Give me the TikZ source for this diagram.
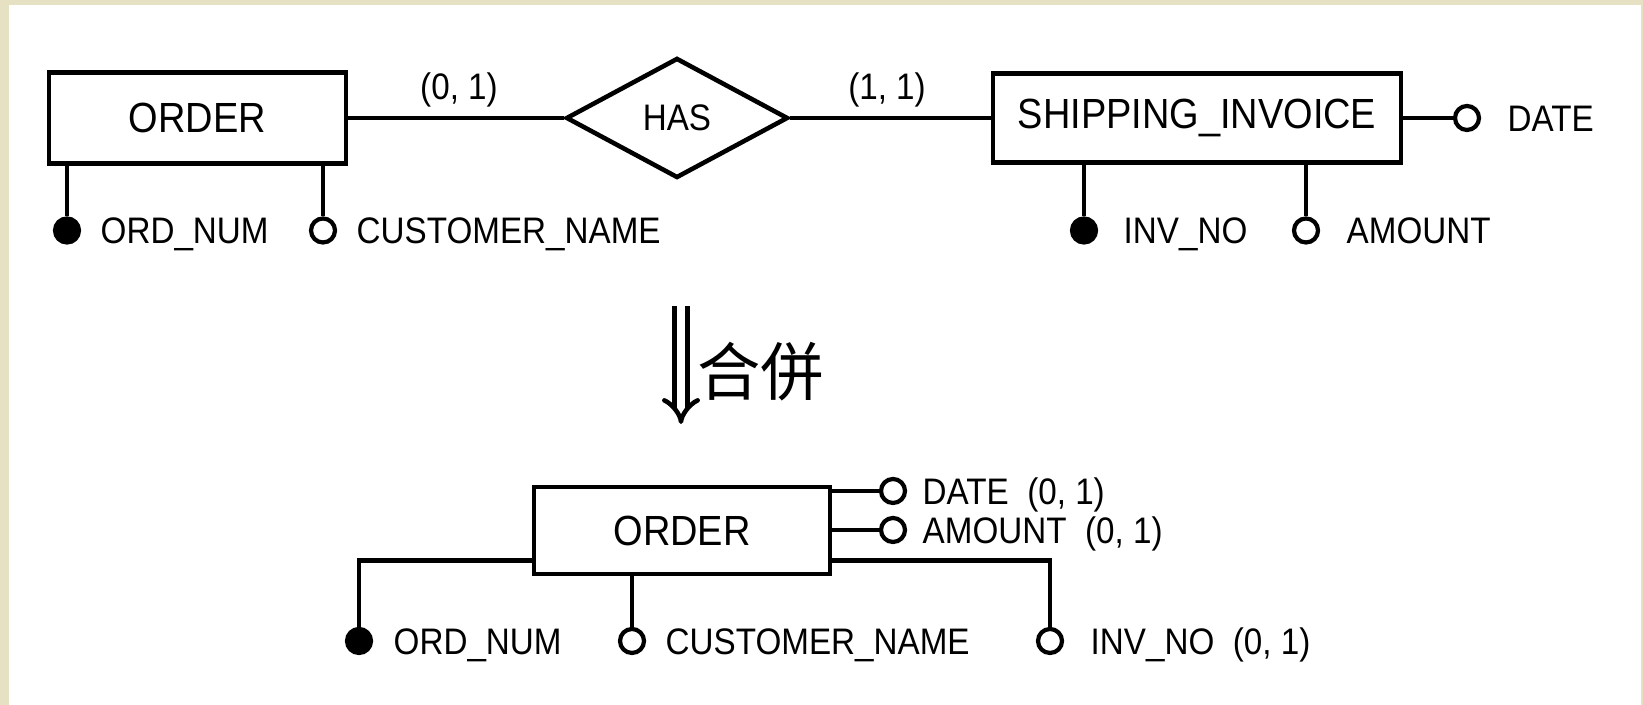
\documentclass[tikz,border=0pt]{standalone}
\usepackage{fontspec}
\setmainfont{Liberation Sans}[FakeStretch=0.9]
\newfontfamily\cjk{Noto Sans CJK TC}
\usetikzlibrary{shapes.geometric,arrows.meta}
\definecolor{paper}{RGB}{231,225,195}
\tikzset{
  entity/.style={draw,line width=1.3pt,inner sep=0pt,font=\fontsize{12}{14}\selectfont},
  relation/.style={draw,diamond,aspect=1.85,line width=1.3pt,inner sep=0pt,
    minimum width=2.22cm,minimum height=1.2cm,font=\fontsize{10.5}{12}\selectfont},
  attr/.style={draw,circle,line width=1.2pt,fill=white,inner sep=0pt,minimum size=0.24cm},
  keyattr/.style={attr,fill=black},
  lab/.style={anchor=west,inner sep=0pt,text height=0.264cm,text depth=0pt,
    font=\fontsize{10.5}{12}\selectfont},
  conn/.style={line width=1.2pt}
}
\begin{document}
\begin{tikzpicture}[scale=1]
% 背景
\fill[paper] (0,0) rectangle (16.43,7.05);
\fill[white] (0.09,0) rectangle (16.41,7.00);
% 上面：ORDER -- HAS -- SHIPPING_INVOICE
\node[entity,minimum width=2.97cm,minimum height=0.91cm] (order1) at (1.975,5.87) {ORDER};
\node[relation] (has) at (6.77,5.87) {HAS};
\node[entity,minimum width=4.08cm,minimum height=0.89cm] (ship) at (11.97,5.87) {SHIPPING\_INVOICE};
\draw[conn] (order1) -- (has);
\draw[conn] (has) -- (ship);
\node[lab,anchor=center] (card1) at (4.59,6.19) {(0, 1)};
\node[lab,anchor=center] (card2) at (8.87,6.19) {(1, 1)};
% ORDER 的属性
\node[keyattr] (o1num) at (0.67,4.745) {};
\node[attr] (o1cust) at (3.23,4.745) {};
\node[lab] (o1numlab) at (1.00,4.745) {ORD\_NUM};
\node[lab] (o1custlab) at (3.56,4.745) {CUSTOMER\_NAME};
\draw[conn] (order1.south -| o1num) -- (o1num);
\draw[conn] (order1.south -| o1cust) -- (o1cust);
% SHIPPING_INVOICE 的属性
\node[attr] (sdate) at (14.67,5.87) {};
\node[lab] (sdatelab) at (15.07,5.87) {DATE};
\node[keyattr] (sinv) at (10.84,4.745) {};
\node[attr] (samt) at (13.06,4.745) {};
\node[lab] (sinvlab) at (11.23,4.745) {INV\_NO};
\node[lab] (samtlab) at (13.46,4.745) {AMOUNT};
\draw[conn] (ship) -- (sdate);
\draw[conn] (ship.south -| sinv) -- (sinv);
\draw[conn] (ship.south -| samt) -- (samt);
% 合併
\coordinate (arrtop) at (6.81,3.99);
\coordinate (arrbot) at (6.81,2.81);
\draw[double,double distance=0.08cm,line width=1.3pt,-{Implies}] (arrtop) -- (arrbot);
\node[anchor=west,inner sep=0pt,font=\cjk\fontsize{18}{20}\selectfont] (merge) at (6.97,3.33) {合併};
% 下面：合併后的 ORDER
\node[entity,minimum width=2.96cm,minimum height=0.87cm] (order2) at (6.82,1.745) {ORDER};
\node[attr] (bdate) at (8.93,2.14) {};
\node[attr] (bamt) at (8.93,1.75) {};
\node[lab] (bdatelab) at (9.22,2.14) {DATE~~(0, 1)};
\node[lab] (bamtlab) at (9.22,1.75) {AMOUNT~~(0, 1)};
\draw[conn] (order2.east |- bdate) -- (bdate);
\draw[conn] (order2.east |- bamt) -- (bamt);
\node[keyattr] (bnum) at (3.59,0.64) {};
\node[attr] (bcust) at (6.32,0.64) {};
\node[attr] (binv) at (10.50,0.64) {};
\node[lab] (bnumlab) at (3.93,0.64) {ORD\_NUM};
\node[lab] (bcustlab) at (6.65,0.64) {CUSTOMER\_NAME};
\node[lab] (binvlab) at (10.90,0.64) {INV\_NO~~(0, 1)};
\draw[conn] ([yshift=-0.3cm]order2.west) -| (bnum);
\draw[conn] (order2.south -| bcust) -- (bcust);
\draw[conn] ([yshift=-0.3cm]order2.east) -| (binv);
\end{tikzpicture}
\end{document}
